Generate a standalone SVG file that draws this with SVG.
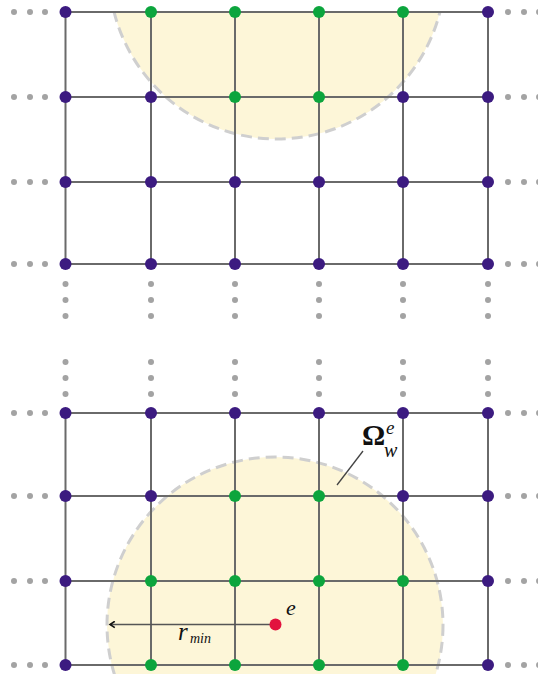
<svg xmlns="http://www.w3.org/2000/svg" width="538" height="674" viewBox="0 0 538 674">
<style>
.fill{fill:#fdf6d8;stroke:none}
.dash{fill:none;stroke:#cfcfcf;stroke-width:3;stroke-dasharray:11 6}
.grid{stroke:#6a6a6a;stroke-width:2;fill:none}
.p{fill:#3c1b80}
.g{fill:#0ca53d}
.r{fill:#e2123e}
.dot{fill:#a3a3a3}
.lbl{font-family:"Liberation Serif","Times New Roman",serif;fill:#111}
</style>
<defs>
<clipPath id="clipTop"><rect x="0" y="12" width="538" height="662"/></clipPath>
<marker id="arr" viewBox="0 0 10 10" refX="8" refY="5" markerWidth="8" markerHeight="8" orient="auto" markerUnits="userSpaceOnUse">
<path d="M2,1 L8,5 L2,9" fill="none" stroke="#111" stroke-width="2"/>
</marker>
</defs>

<g id="regions">
<g clip-path="url(#clipTop)">
<circle class="fill" cx="277" cy="-29" r="168"/>
<circle class="dash" cx="277" cy="-29" r="168"/>
</g>
<circle class="fill" cx="275" cy="625" r="168"/>
<circle class="dash" cx="275" cy="625" r="168"/>
</g>

<g id="connectors">
<path class="grid" d="M65.5,12H488M65.5,97H488M65.5,182H488M65.5,264H488M65.5,12V264M151,12V264M235,12V264M319,12V264M403,12V264M488,12V264"/>
<path class="grid" d="M65.5,413H488M65.5,496H488M65.5,581H488M65.5,665H488M65.5,413V665M151,413V665M235,413V665M319,413V665M403,413V665M488,413V665"/>
<line x1="270" y1="624.5" x2="110" y2="624.5" stroke="#555" stroke-width="1.5" marker-end="url(#arr)"/>
<line x1="337" y1="485" x2="363" y2="451" stroke="#444" stroke-width="1.3"/>
</g>

<g id="ellipsis" class="dot">
<circle cx="14" cy="12" r="3"/><circle cx="30" cy="12" r="3"/><circle cx="45" cy="12" r="3"/>
<circle cx="14" cy="97" r="3"/><circle cx="30" cy="97" r="3"/><circle cx="45" cy="97" r="3"/>
<circle cx="14" cy="182" r="3"/><circle cx="30" cy="182" r="3"/><circle cx="45" cy="182" r="3"/>
<circle cx="14" cy="264" r="3"/><circle cx="30" cy="264" r="3"/><circle cx="45" cy="264" r="3"/>
<circle cx="14" cy="413" r="3"/><circle cx="30" cy="413" r="3"/><circle cx="45" cy="413" r="3"/>
<circle cx="14" cy="496" r="3"/><circle cx="30" cy="496" r="3"/><circle cx="45" cy="496" r="3"/>
<circle cx="14" cy="581" r="3"/><circle cx="30" cy="581" r="3"/><circle cx="45" cy="581" r="3"/>
<circle cx="14" cy="665" r="3"/><circle cx="30" cy="665" r="3"/><circle cx="45" cy="665" r="3"/>
<circle cx="508" cy="12" r="3"/><circle cx="524" cy="12" r="3"/><circle cx="539" cy="12" r="3"/>
<circle cx="508" cy="97" r="3"/><circle cx="524" cy="97" r="3"/><circle cx="539" cy="97" r="3"/>
<circle cx="508" cy="182" r="3"/><circle cx="524" cy="182" r="3"/><circle cx="539" cy="182" r="3"/>
<circle cx="508" cy="264" r="3"/><circle cx="524" cy="264" r="3"/><circle cx="539" cy="264" r="3"/>
<circle cx="508" cy="413" r="3"/><circle cx="524" cy="413" r="3"/><circle cx="539" cy="413" r="3"/>
<circle cx="508" cy="496" r="3"/><circle cx="524" cy="496" r="3"/><circle cx="539" cy="496" r="3"/>
<circle cx="508" cy="581" r="3"/><circle cx="524" cy="581" r="3"/><circle cx="539" cy="581" r="3"/>
<circle cx="508" cy="665" r="3"/><circle cx="524" cy="665" r="3"/><circle cx="539" cy="665" r="3"/>
<circle cx="65.5" cy="284" r="3"/><circle cx="65.5" cy="300" r="3"/><circle cx="65.5" cy="316" r="3"/>
<circle cx="151" cy="284" r="3"/><circle cx="151" cy="300" r="3"/><circle cx="151" cy="316" r="3"/>
<circle cx="235" cy="284" r="3"/><circle cx="235" cy="300" r="3"/><circle cx="235" cy="316" r="3"/>
<circle cx="319" cy="284" r="3"/><circle cx="319" cy="300" r="3"/><circle cx="319" cy="316" r="3"/>
<circle cx="403" cy="284" r="3"/><circle cx="403" cy="300" r="3"/><circle cx="403" cy="316" r="3"/>
<circle cx="488" cy="284" r="3"/><circle cx="488" cy="300" r="3"/><circle cx="488" cy="316" r="3"/>
<circle cx="65.5" cy="362" r="3"/><circle cx="65.5" cy="378" r="3"/><circle cx="65.5" cy="394" r="3"/>
<circle cx="151" cy="362" r="3"/><circle cx="151" cy="378" r="3"/><circle cx="151" cy="394" r="3"/>
<circle cx="235" cy="362" r="3"/><circle cx="235" cy="378" r="3"/><circle cx="235" cy="394" r="3"/>
<circle cx="319" cy="362" r="3"/><circle cx="319" cy="378" r="3"/><circle cx="319" cy="394" r="3"/>
<circle cx="403" cy="362" r="3"/><circle cx="403" cy="378" r="3"/><circle cx="403" cy="394" r="3"/>
<circle cx="488" cy="362" r="3"/><circle cx="488" cy="378" r="3"/><circle cx="488" cy="394" r="3"/>
</g>

<g id="nodes-top">
<g id="t00"><circle class="p" cx="65.5" cy="12" r="6"/></g>
<g id="t01"><circle class="g" cx="151" cy="12" r="6"/></g>
<g id="t02"><circle class="g" cx="235" cy="12" r="6"/></g>
<g id="t03"><circle class="g" cx="319" cy="12" r="6"/></g>
<g id="t04"><circle class="g" cx="403" cy="12" r="6"/></g>
<g id="t05"><circle class="p" cx="488" cy="12" r="6"/></g>
<g id="t10"><circle class="p" cx="65.5" cy="97" r="6"/></g>
<g id="t11"><circle class="p" cx="151" cy="97" r="6"/></g>
<g id="t12"><circle class="g" cx="235" cy="97" r="6"/></g>
<g id="t13"><circle class="g" cx="319" cy="97" r="6"/></g>
<g id="t14"><circle class="p" cx="403" cy="97" r="6"/></g>
<g id="t15"><circle class="p" cx="488" cy="97" r="6"/></g>
<g id="t20"><circle class="p" cx="65.5" cy="182" r="6"/></g>
<g id="t21"><circle class="p" cx="151" cy="182" r="6"/></g>
<g id="t22"><circle class="p" cx="235" cy="182" r="6"/></g>
<g id="t23"><circle class="p" cx="319" cy="182" r="6"/></g>
<g id="t24"><circle class="p" cx="403" cy="182" r="6"/></g>
<g id="t25"><circle class="p" cx="488" cy="182" r="6"/></g>
<g id="t30"><circle class="p" cx="65.5" cy="264" r="6"/></g>
<g id="t31"><circle class="p" cx="151" cy="264" r="6"/></g>
<g id="t32"><circle class="p" cx="235" cy="264" r="6"/></g>
<g id="t33"><circle class="p" cx="319" cy="264" r="6"/></g>
<g id="t34"><circle class="p" cx="403" cy="264" r="6"/></g>
<g id="t35"><circle class="p" cx="488" cy="264" r="6"/></g>
</g>

<g id="nodes-bottom">
<g id="b00"><circle class="p" cx="65.5" cy="413" r="6"/></g>
<g id="b01"><circle class="p" cx="151" cy="413" r="6"/></g>
<g id="b02"><circle class="p" cx="235" cy="413" r="6"/></g>
<g id="b03"><circle class="p" cx="319" cy="413" r="6"/></g>
<g id="b04"><circle class="p" cx="403" cy="413" r="6"/></g>
<g id="b05"><circle class="p" cx="488" cy="413" r="6"/></g>
<g id="b10"><circle class="p" cx="65.5" cy="496" r="6"/></g>
<g id="b11"><circle class="p" cx="151" cy="496" r="6"/></g>
<g id="b12"><circle class="g" cx="235" cy="496" r="6"/></g>
<g id="b13"><circle class="g" cx="319" cy="496" r="6"/></g>
<g id="b14"><circle class="p" cx="403" cy="496" r="6"/></g>
<g id="b15"><circle class="p" cx="488" cy="496" r="6"/></g>
<g id="b20"><circle class="p" cx="65.5" cy="581" r="6"/></g>
<g id="b21"><circle class="g" cx="151" cy="581" r="6"/></g>
<g id="b22"><circle class="g" cx="235" cy="581" r="6"/></g>
<g id="b23"><circle class="g" cx="319" cy="581" r="6"/></g>
<g id="b24"><circle class="g" cx="403" cy="581" r="6"/></g>
<g id="b25"><circle class="p" cx="488" cy="581" r="6"/></g>
<g id="b30"><circle class="p" cx="65.5" cy="665" r="6"/></g>
<g id="b31"><circle class="g" cx="151" cy="665" r="6"/></g>
<g id="b32"><circle class="g" cx="235" cy="665" r="6"/></g>
<g id="b33"><circle class="g" cx="319" cy="665" r="6"/></g>
<g id="b34"><circle class="g" cx="403" cy="665" r="6"/></g>
<g id="b35"><circle class="p" cx="488" cy="665" r="6"/></g>
</g>

<g id="e-point">
<circle class="r" cx="275.5" cy="624.5" r="6"/>
<text class="lbl" x="286" y="615" font-size="22" font-style="italic">e</text>
</g>

<g id="labels">
<text class="lbl" x="178" y="640" font-size="25" font-style="italic">r</text>
<text class="lbl" x="190" y="643" font-size="14" font-style="italic">min</text>
<text class="lbl" x="362" y="445" font-size="29" font-weight="bold">Ω</text>
<text class="lbl" x="386" y="434" font-size="19" font-style="italic">e</text>
<text class="lbl" x="384" y="457" font-size="20" font-style="italic">w</text>
</g>
</svg>
